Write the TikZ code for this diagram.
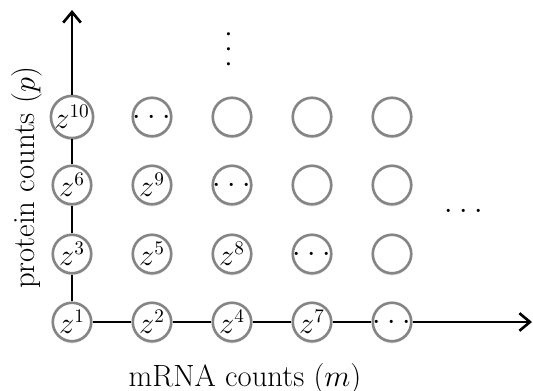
\documentclass[tikz,border=0pt]{standalone}
\usepackage{amsmath}
\usepackage{tikz}
\usetikzlibrary{arrows.meta,shadows}

\newcommand{\gdots}{\makebox[0pt]{\raisebox{-0.25em}[0pt][0pt]{${\cdot}\mkern4mu{\cdot}\mkern4mu{\cdot}$}}}

\begin{document}
\begin{tikzpicture}[x=0.02cm, y=0.02cm,
    state/.style={circle, draw=black!48, line width=1.5pt, fill=white, minimum size=0.77cm, inner sep=0pt,
        drop shadow={shadow xshift=0pt, shadow yshift=-1.2pt, opacity=0.25}, font=\fontsize{16}{18}\selectfont},
    more/.style={inner sep=0pt, font=\fontsize{16}{18}\selectfont},
    axis/.style={line width=1.5pt, -{Straight Barb[length=6pt,width=10pt,line width=1.5pt]}},
    lbl/.style={font=\fontsize{17.5}{20}\selectfont}]
    \useasboundingbox (0,0) rectangle (533,390);
    % columns m = 0..4 at x = 72,152,232,312,392 ; rows p = 0..3 at y = 68,136,205,273
    \node [state] (m0p0) at (72,68) {$z^1$};
    \node [state] (m1p0) at (152,68) {$z^2$};
    \node [state] (m2p0) at (232,68) {$z^4$};
    \node [state] (m3p0) at (312,68) {$z^7$};
    \node [state] (m4p0) at (392,68) {\gdots};
    \node [state] (m0p1) at (72,136) {$z^3$};
    \node [state] (m1p1) at (152,136) {$z^5$};
    \node [state] (m2p1) at (232,136) {$z^8$};
    \node [state] (m3p1) at (312,136) {\gdots};
    \node [state] (m4p1) at (392,136) {};
    \node [state] (m0p2) at (72,205) {$z^6$};
    \node [state] (m1p2) at (152,205) {$z^9$};
    \node [state] (m2p2) at (232,205) {\gdots};
    \node [state] (m3p2) at (312,205) {};
    \node [state] (m4p2) at (392,205) {};
    \node [state] (m0p3) at (72,273) {$z^{10}$};
    \node [state] (m1p3) at (152,273) {\gdots};
    \node [state] (m2p3) at (232,273) {};
    \node [state] (m3p3) at (312,273) {};
    \node [state] (m4p3) at (392,273) {};

    % more states beyond the grid
    \node [more, rotate=90] (pmore) at (229,341) {\gdots};
    \node [more] (mmore) at (464,179) {\gdots};

    % axes
    \coordinate (ptip) at (72,380);
    \coordinate (mtip) at (532,68);
    \draw [axis] (m0p0) -- (m0p1) -- (m0p2) -- (m0p3) -- (ptip);
    \draw [axis] (m0p0) -- (m1p0) -- (m2p0) -- (m3p0) -- (m4p0) -- (mtip);

    \node [lbl, anchor=base] (mlabel) at (245,4) {mRNA counts ($m$)};
    \node [lbl, rotate=90] (plabel) at (27,212) {protein counts ($p$)};
\end{tikzpicture}
\end{document}
